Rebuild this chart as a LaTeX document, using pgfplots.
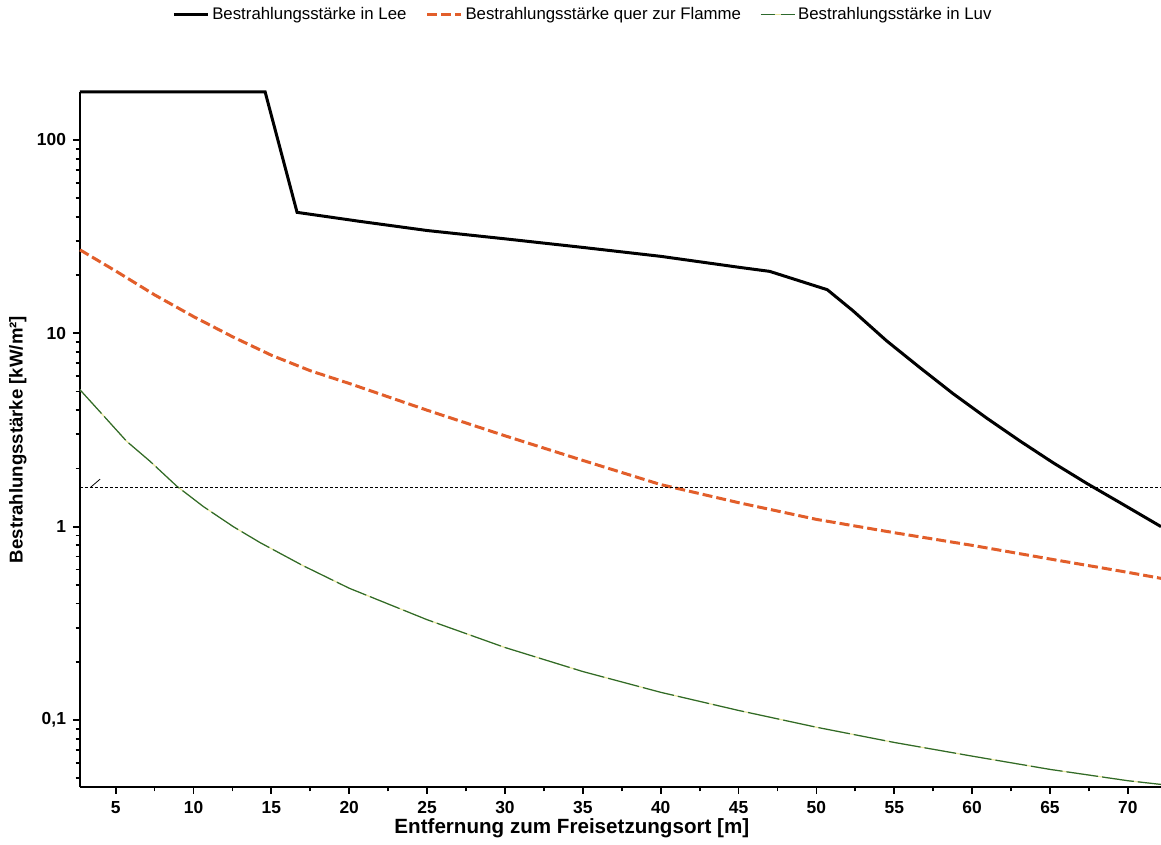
\documentclass[border=0pt]{standalone}
\usepackage{fontspec}
\setmainfont{Liberation Sans}
\usepackage{pgfplots}
\pgfplotsset{compat=1.18}

\definecolor{leeorange}{RGB}{226,94,42}
\definecolor{luvgreen}{RGB}{45,105,45}
\definecolor{luvyellow}{RGB}{236,232,160}

\begin{document}
\begin{tikzpicture}
\begin{axis}[
  name=ax,
  width=540.5pt, height=347.5pt, scale only axis,
  xmin=2.71, xmax=72.13,
  ymode=log, ymin=0.045, ymax=177,
  axis x line*=bottom, axis y line*=left,
  axis line style={line width=1.2pt, -},
  xtick={5,10,...,70},
  minor x tick num=1,
  ytick={0.1,1,10,100},
  yticklabels={{0,1},1,10,100},
  minor ytick={0.05,0.06,0.07,0.08,0.09,0.2,0.3,0.4,0.5,0.6,0.7,0.8,0.9,2,3,4,5,6,7,8,9,20,30,40,50,60,70,80,90},
  tick align=outside,
  major tick length=3.5pt, minor tick length=2.2pt,
  every tick/.style={black, line width=0.9pt},
  tick label style={font=\fontsize{8.7}{10}\selectfont\bfseries},
  xticklabel style={yshift=-0.3pt},
  /pgf/number format/assume math mode=true,
  xlabel={Entfernung zum Freisetzungsort [m]},
  ylabel={Bestrahlungsstärke [kW/m²]},
  xlabel style={font=\fontsize{10.3}{12}\selectfont\bfseries,
    at={(axis description cs:0.455,-0.0595)}, anchor=center},
  ylabel style={font=\fontsize{9.3}{11}\selectfont\bfseries,
    at={(axis description cs:-0.0574,0.5)}, anchor=center},
  clip=false,
  legend columns=3,
  legend style={at={(axis description cs:0.085,1.111)}, anchor=west,
    draw=none, fill=none, inner sep=0pt,
    font=\fontsize{8.4}{10}\selectfont,
    nodes={inner xsep=1.5pt},
    /tikz/every even column/.append style={column sep=8pt}},
  legend image code/.code={\draw[#1] (0pt,0pt) -- (17pt,0pt);},
]
% irradiance on the lee side
\addplot[black, line width=1.5pt] coordinates {
  (2.71,177) (14.6,177) (16.65,42.2) (20.7,37.9) (25,34.0) (30,30.8)
  (35,27.8) (40,25.0) (45.1,21.9) (47.0,20.9) (50.7,16.8) (52.35,13.07)
  (54.5,9.15) (56.66,6.63) (58.78,4.87) (60.94,3.64) (63.08,2.77)
  (65.2,2.14) (67.38,1.67) (69.5,1.33) (72.13,1.0)
};
\addlegendentry{Bestrahlungsstärke in Lee}
% irradiance across the flame
\addplot[leeorange, line width=1.5pt, dash pattern=on 5pt off 2pt] coordinates {
  (2.71,27.0) (5,21.0) (7.5,15.8) (10,12.2) (12.5,9.6) (15,7.7)
  (17.5,6.4) (20,5.5) (25,4.0) (30,2.95) (35,2.2) (40,1.65) (45,1.33)
  (50,1.09) (55,0.93) (60,0.80) (65,0.68) (70,0.58) (72.13,0.54)
};
\addlegendentry{Bestrahlungsstärke quer zur Flamme}
% irradiance on the windward side (pale base line, green dashes on top)
\addplot[luvyellow, line width=0.6pt, forget plot] coordinates {
  (2.71,5.1) (4,3.92) (5.71,2.76) (7.2,2.18) (8.92,1.62) (10.63,1.27)
  (12.55,1.0) (14.27,0.827) (17,0.63) (20,0.48) (25,0.33) (30,0.237)
  (35,0.178) (40,0.139) (45,0.112) (50,0.0917) (55,0.0765) (60,0.065)
  (65,0.0555) (70,0.0485) (72.13,0.0464)
};
\addplot[luvgreen, line width=0.6pt, dash pattern=on 16pt off 2pt,
  legend image code/.code={
    \draw[luvgreen, line width=0.6pt] (0pt,0pt) -- (7pt,0pt) (10pt,0pt) -- (17pt,0pt);
    \draw[luvyellow, line width=0.6pt] (7pt,0pt) -- (10pt,0pt);}]
  coordinates {
  (2.71,5.1) (4,3.92) (5.71,2.76) (7.2,2.18) (8.92,1.62) (10.63,1.27)
  (12.55,1.0) (14.27,0.827) (17,0.63) (20,0.48) (25,0.33) (30,0.237)
  (35,0.178) (40,0.139) (45,0.112) (50,0.0917) (55,0.0765) (60,0.065)
  (65,0.0555) (70,0.0485) (72.13,0.0464)
};
\addlegendentry{Bestrahlungsstärke in Luv}
% threshold 1.6 kW/m²
\addplot[black, line width=0.5pt, dash pattern=on 1.5pt off 1pt, forget plot]
  coordinates {(2.71,1.6) (72.13,1.6)};
\addplot[black, line width=0.4pt, forget plot]
  coordinates {(3.4,1.60) (4.0,1.76)};
\coordinate (sw) at (rel axis cs:0,0);
\coordinate (ne) at (rel axis cs:1,1);
\end{axis}
\pgfresetboundingbox
\path ([shift={(-40pt,-29pt)}]sw) rectangle ([shift={(0pt,46pt)}]ne);
\end{tikzpicture}
\end{document}
